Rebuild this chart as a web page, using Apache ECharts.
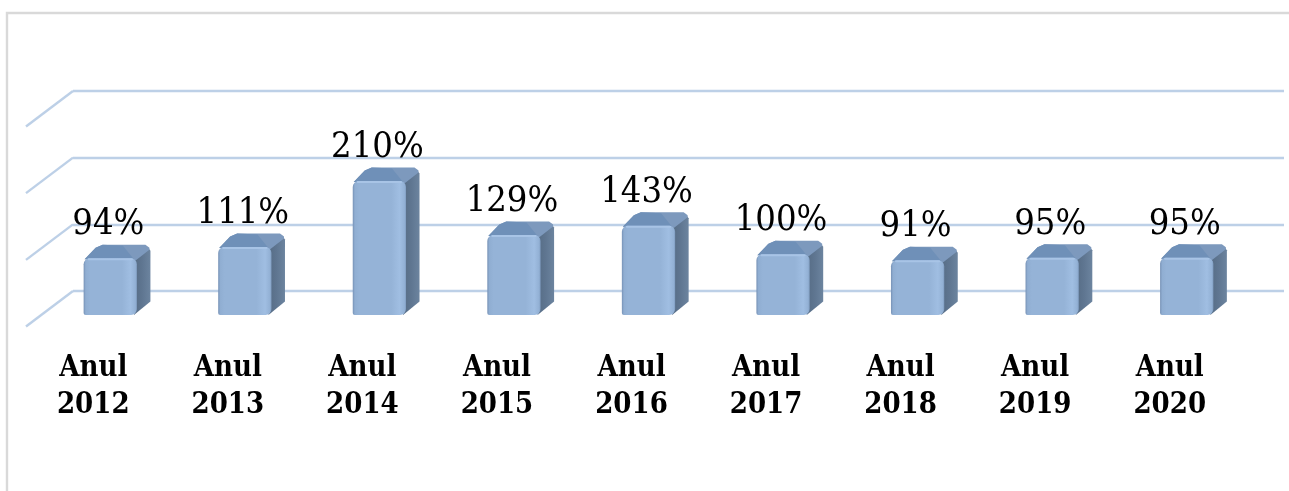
<!DOCTYPE html>
<html>
<head>
<meta charset="utf-8">
<style>html,body{margin:0;padding:0;background:#fff}#c{width:1289px;height:491px}</style>
<script src="https://cdn.jsdelivr.net/npm/echarts@6/dist/echarts.min.js"></script>
</head>
<body>
<div id="c"></div>
<script>
const categories = ['Anul\n2012','Anul\n2013','Anul\n2014','Anul\n2015','Anul\n2016','Anul\n2017','Anul\n2018','Anul\n2019','Anul\n2020'];
const percentages = [94,111,210,129,143,100,91,95,95];
const wallTicks = [0,100,200,300];

const chart = echarts.init(document.getElementById('c'), null, {renderer:'canvas'});
const GRID = '#bdd0e7';
const SERIF = '"DejaVu Serif Condensed", "DejaVu Serif", "Liberation Serif", serif';

function renderDiagonal(params, api){
  const p = api.coord([0, api.value(1)]);
  const x0 = api.coord([0,0])[0] - api.size([1,0])[0]/2;
  return {type:'line', shape:{x1:x0, y1:p[1], x2:x0-47, y2:p[1]+35.5},
    style:{stroke:GRID, lineWidth:2.4, fill:null}, silent:true};
}

function renderBar(params, api){
  const idx = api.value(0), v = api.value(1);
  const top = api.coord([idx, v]), base = api.coord([idx, 0]);
  const w = api.size([1,0])[0]*0.396;
  const l = top[0]-w/2, r = top[0]+w/2, t = top[1], b = base[1]-6;
  const dx = 13.5, dy = 13.5;
  return {type:'group', children:[
    {type:'polygon', shape:{points:[[r-3,t],[r+dx-3,t-dy+2],[r+dx,t-dy+6],[r+dx,b-dy],[r-3,b]]},
      style:{fill:{type:'linear',x:0,y:0,x2:1,y2:0,colorStops:[{offset:0,color:'#566c85'},{offset:.5,color:'#5f7691'},{offset:1,color:'#6c849f'}]}}},
    {type:'polygon', shape:{points:[[l+1,t+1],[l+12,t-dy+3],[l+19,t-dy],[r+dx-5,t-dy],[r+dx-1,t-dy+3],[r+dx-1,t-dy+5],[r-1,t+2]]},
      style:{fill:'#7d99bd'}},
    {type:'polygon', shape:{points:[[l+1,t+1],[l+12,t-dy+3],[l+19,t-dy],[r-14,t-dy+1],[r-3,t+1]]},
      style:{fill:'#6f90b8'}},
    {type:'rect', shape:{x:l,y:t,width:w,height:b-t,r:[6,6,6,2]},
      style:{fill:{type:'linear',x:0,y:0,x2:1,y2:0,colorStops:[
        {offset:0,color:'#7792b6'},{offset:.04,color:'#90aed2'},{offset:.12,color:'#95b3d7'},
        {offset:.72,color:'#95b3d7'},{offset:.88,color:'#a0bee2'},{offset:.97,color:'#93b1d5'},{offset:1,color:'#7f9cc0'}]}}},
    {type:'rect', shape:{x:l+4,y:t,width:w-8,height:2,r:1}, style:{fill:'#a8c4e6'}},
    {type:'text', x:top[0]-2, y:t-15.5,
      style:{text:api.value(1)+'%', font:'36px '+SERIF, fill:'#000', align:'center', verticalAlign:'bottom'}}
  ]};
}

chart.setOption({
  animation:false,
  backgroundColor:'#fff',
  graphic:[
    {type:'polyline', silent:true, shape:{points:[[7,491],[7,13],[1289,13]]}, style:{stroke:'#d9d9d9', lineWidth:2.4, fill:null}}
  ],
  grid:[
    {left:73, top:91, width:1211, height:200},
    {left:43, top:121, width:1211, height:200},
    {left:26, top:126.5, width:1211, height:200}
  ],
  xAxis:[
    {gridIndex:0, type:'category', data:categories, show:false},
    {gridIndex:1, type:'category', data:categories, show:false},
    {gridIndex:2, type:'category', data:categories,
      axisLine:{show:false}, axisTick:{show:false},
      axisLabel:{margin:23, interval:0, color:'#000', fontFamily:SERIF, fontWeight:'bold', fontSize:29, lineHeight:37}}
  ],
  yAxis:[
    {gridIndex:0, type:'value', min:0, max:300, interval:100, axisLabel:{show:false}, axisLine:{show:false}, axisTick:{show:false},
      splitLine:{show:true, lineStyle:{color:GRID, width:2.4}}},
    {gridIndex:1, type:'value', min:0, max:300, interval:100, show:false, splitLine:{show:false}},
    {gridIndex:2, type:'value', min:0, max:300, interval:100, show:false, splitLine:{show:false}}
  ],
  series:[
    {type:'custom', xAxisIndex:0, yAxisIndex:0, silent:true, renderItem:renderDiagonal,
      encode:{x:0,y:1}, data:wallTicks.map(t=>[0,t])},
    {type:'custom', xAxisIndex:1, yAxisIndex:1, silent:true, renderItem:renderBar, clip:false,
      encode:{x:0,y:1}, data:percentages.map((v,i)=>[i,v])}
  ]
});
</script>
</body>
</html>
